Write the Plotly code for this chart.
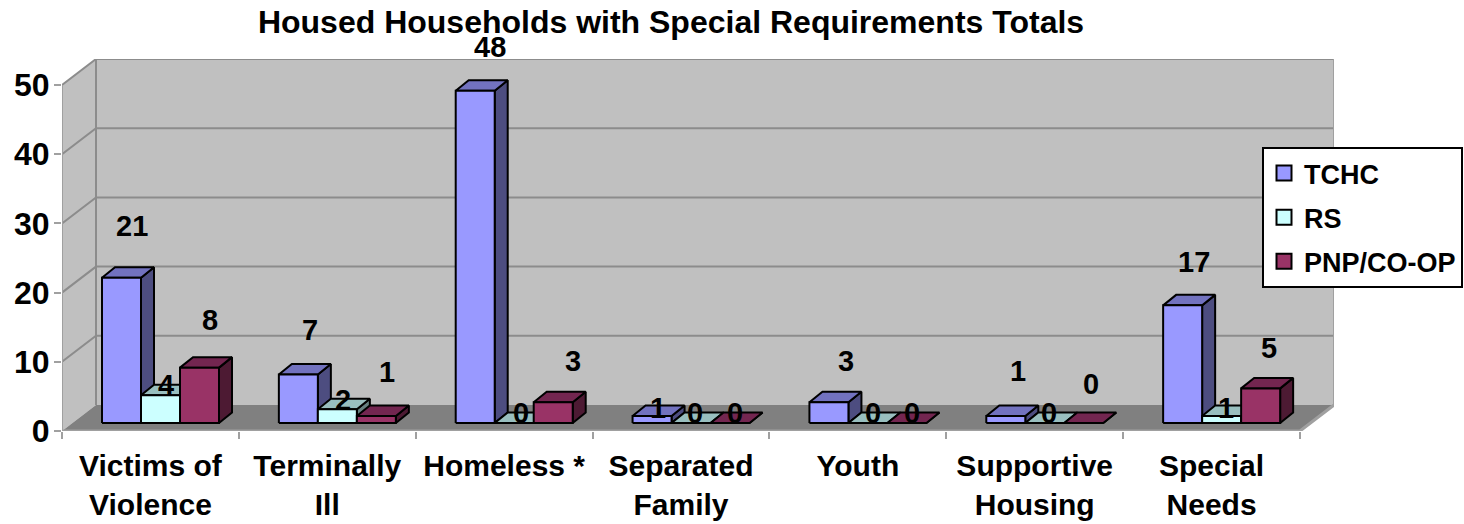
import plotly.graph_objects as go

TITLE = "Housed Households with Special Requirements Totals"
CATEGORIES = ["Victims of<br>Violence", "Terminally<br>Ill", "Homeless *", "Separated<br>Family", "Youth",
              "Supportive<br>Housing", "Special<br>Needs"]
SERIES = ["TCHC", "RS", "PNP/CO-OP"]
TCHC = [21, 7, 48, 1, 3, 1, 17]
RS = [4, 2, 0, 0, 0, 0, 1]
PNP = [8, 1, 3, 0, 0, 0, 5]
Y_TICKS = [0, 10, 20, 30, 40, 50]

# label placement relative to each bar (x in px, lift in value units)
LABEL_SHIFT = [[10, 12, 15, 6, 17, 12, 11], [5, 6, 7, 4, 5, 4, 4], [10, 11, 20, 5, 5, 7, 8]]
LABEL_LIFT = [[7.5, 6.45, 6.3, 1.2, 5.9, 6.5, 6.3],
              [1.5, 1.3, 1.45, 1.45, 1.45, 1.45, 1.2],
              [6.9, 6.4, 5.9, 1.45, 1.45, 5.6, 5.8]]

FRONT = ["#9999FF", "#CCFFFF", "#993366"]
TOP = ["#7272BF", "#99BFBF", "#732650"]
SIDE = ["#4D4D80", "#668080", "#4D1A33"]
WALL, FLOOR, GRID, EDGE = "#C0C0C0", "#808080", "#8C8C8C", "#A0A0A0"
FONT = "Liberation Sans, Arial, sans-serif"

N = len(CATEGORIES)
PX_X = 1272 / (N + 34 / 176.9)
PX_Y = 6.92
DX, DY = 34 / PX_X, 26 / PX_Y       # wall depth
BAR_OFF, BAR_W = 40 / PX_X, 39 / PX_X
BAR_DX, BAR_DY = 13 / PX_X, 10.5 / PX_Y
BASE = 8 / PX_Y

fig = go.Figure()


def poly(xs, ys, fill, line=None, width=0):
    fig.add_trace(go.Scatter(x=xs, y=ys, mode="lines", fill="toself" if fill else None, fillcolor=fill,
                             line=dict(color=line or fill, width=width), showlegend=False,
                             hoverinfo="skip", cliponaxis=False))


# walls and floor
poly([0, DX, DX, 0, 0], [0, DY, 50 + DY, 50, 0], WALL)
poly([DX, N + DX, N + DX, DX, DX], [DY, DY, 50 + DY, 50 + DY, DY], WALL)
poly([0, N, N + DX, DX, 0], [0, 0, DY, DY, 0], FLOOR)
# gridlines
gx, gy = [], []
for v in Y_TICKS[1:]:
    gx += [0, DX, N + DX, None]
    gy += [v, v + DY, v + DY, None]
poly(gx, gy, None, GRID, 2)
poly([0, 0], [0, 50], None, EDGE, 2)
poly([DX, DX], [DY, 50 + DY], None, GRID, 2)
poly([N + DX, N + DX], [DY, 50 + DY], None, EDGE, 2)
poly([0, N, N + DX], [0, 0, DY], None, EDGE, 3)

# 3-D bars, painted left to right
for s, vals in enumerate([TCHC, RS, PNP]):
    sx, sy, tx, ty, fx, fy = [], [], [], [], [], []
    for c, v in enumerate(vals):
        x0 = c + BAR_OFF + s * BAR_W
        x1 = x0 + BAR_W
        y0, y1 = BASE, BASE + v
        sx += [x1, x1 + BAR_DX, x1 + BAR_DX, x1, x1, None]
        sy += [y0, y0 + BAR_DY, y1 + BAR_DY, y1, y0, None]
        tx += [x0, x1, x1 + BAR_DX, x0 + BAR_DX, x0, None]
        ty += [y1, y1, y1 + BAR_DY, y1 + BAR_DY, y1, None]
        if v > 0:
            fx += [x0, x1, x1, x0, x0, None]
            fy += [y0, y0, y1, y1, y0, None]
    poly(sx, sy, SIDE[s], "#000000", 2)
    poly(tx, ty, TOP[s], "#000000", 2)
    poly(fx, fy, FRONT[s], "#000000", 2)

# data labels (vertical position as a fraction of the plot so that labels may rise above it)
annotations = []
for s, vals in enumerate([TCHC, RS, PNP]):
    for c, v in enumerate(vals):
        annotations.append(dict(
            xref="x", yref="paper",
            x=c + BAR_OFF + (s + 0.5) * BAR_W + LABEL_SHIFT[s][c] / PX_X,
            y=(BASE + v + LABEL_LIFT[s][c]) / (50 + DY), text=str(v), showarrow=False,
            xanchor="center", yanchor="middle",
            font=dict(family=FONT, size=29, color="#000000", weight="bold")))

# legend entries
for s, name in enumerate(SERIES):
    fig.add_trace(go.Scatter(x=[None], y=[None], mode="markers", name=name, legendgroup=name,
                             marker=dict(symbol="square", size=15, color=FRONT[s],
                                         line=dict(color="#000000", width=2))))

fig.update_layout(
    width=1464, height=524, autosize=False,
    margin=dict(l=62, r=130, t=59, b=93, pad=0, autoexpand=False),
    paper_bgcolor="#FFFFFF", plot_bgcolor="rgba(0,0,0,0)",
    annotations=annotations,
    title=dict(text=TITLE, x=(671 - 62) / 1272, xref="paper", xanchor="center", y=1 - 22 / 524, yanchor="middle",
               font=dict(family=FONT, size=32, color="#000000", weight="bold")),
    xaxis=dict(range=[0, N + DX], showgrid=False, zeroline=False, showline=False,
               tickmode="array", tickvals=[i + 0.5 for i in range(N)], ticktext=CATEGORIES, ticks="", ticklen=0,
               tickfont=dict(family=FONT, size=30, color="#000000", weight="bold"), ticklabelstandoff=14,
               tickangle=0, fixedrange=True,
               minor=dict(tickmode="array", tickvals=list(range(N + 1)), ticks="outside", ticklen=7,
                          tickwidth=2, tickcolor=EDGE, showgrid=False)),
    yaxis=dict(range=[0, 50 + DY], showgrid=False, zeroline=False, showline=False,
               tickmode="array", tickvals=Y_TICKS, ticks="outside", ticklen=7, tickwidth=2, tickcolor=EDGE,
               ticklabelstandoff=-2,
               tickfont=dict(family=FONT, size=32, color="#000000", weight="bold"), fixedrange=True),
    legend=dict(x=(1262 - 62) / 1272, y=(431 - 147) / 372, xanchor="left", yanchor="top",
                bgcolor="#FFFFFF", bordercolor="#000000", borderwidth=2, tracegroupgap=6,
                font=dict(family=FONT, size=27, color="#000000", weight="bold"),
                itemclick=False, itemdoubleclick=False),
)

fig.write_html("out.html", post_script="document.body.style.margin='0';", config={"displayModeBar": False})
